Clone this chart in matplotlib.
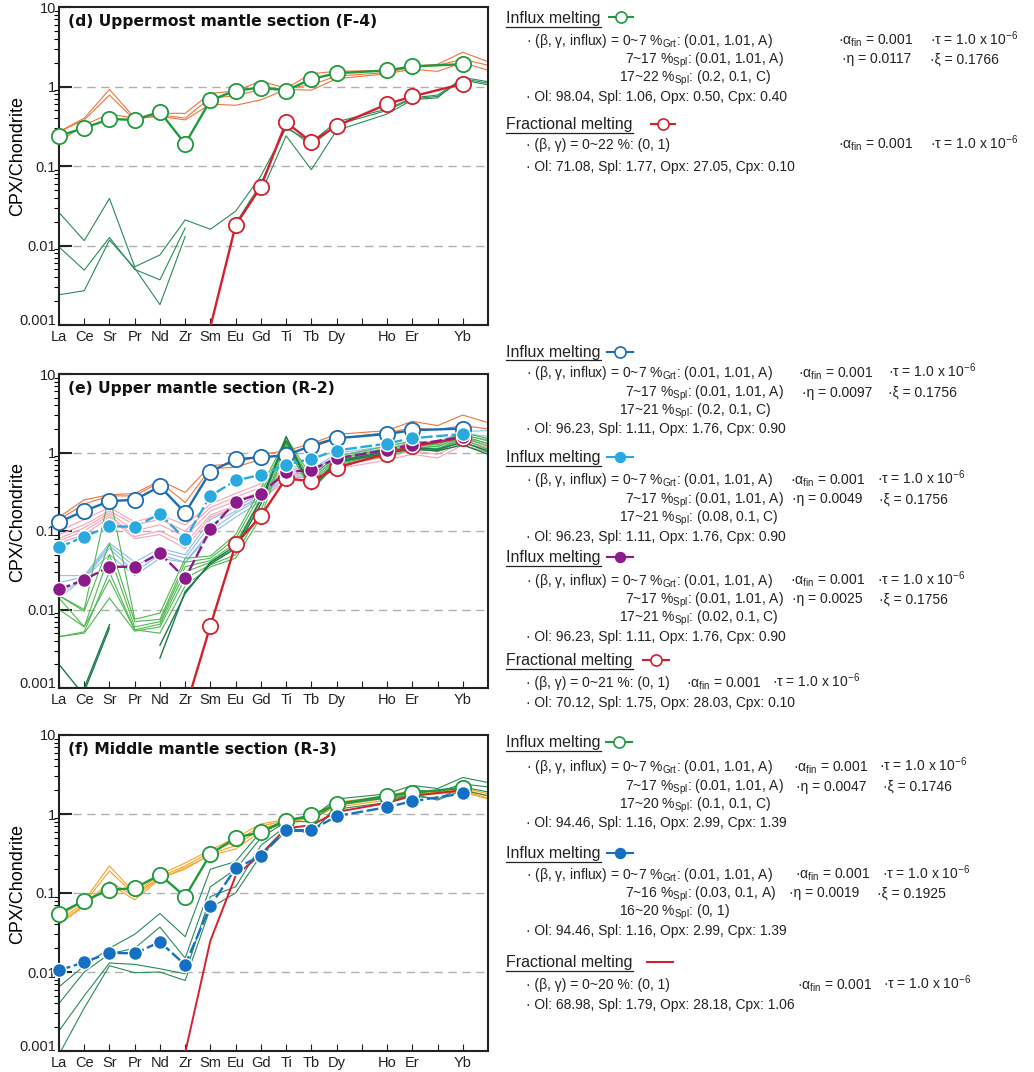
import numpy as np
import matplotlib
matplotlib.use('Agg')
import matplotlib.pyplot as plt
import matplotlib.transforms as mtransforms
from matplotlib.lines import Line2D
from matplotlib.ticker import LogLocator, NullFormatter

plt.rcParams['font.family'] = ['Liberation Sans', 'DejaVu Sans']
plt.rcParams['mathtext.fontset'] = 'custom'
plt.rcParams['mathtext.rm'] = 'Liberation Sans'
plt.rcParams['mathtext.it'] = 'Liberation Sans:italic'
plt.rcParams['mathtext.bf'] = 'Liberation Sans:bold'

nan = np.nan

# x axis: element order (ticks at 12 and 15 carry no label)
tick_labels = ['La', 'Ce', 'Sr', 'Pr', 'Nd', 'Zr', 'Sm', 'Eu', 'Gd', 'Ti', 'Tb', 'Dy', '', 'Ho', 'Er', '', 'Yb']
model_x = [0, 1, 2, 3, 4, 5, 6, 7, 8, 9, 10, 11, 13, 14, 16]           # La..Dy, Ho, Er, Yb
sample_x = [0, 1, 2, 3, 4, 5, 6, 7, 8, 9, 10, 11, 13, 14, 15, 16, 17]  # + Tm, Lu

# ---------------- (d) F-4 ----------------
d_influx = [0.24, 0.30, 0.39, 0.38, 0.48, 0.19, 0.67, 0.89, 0.97, 0.89, 1.24, 1.47, 1.59, 1.79, 1.91]
d_frac = [nan, nan, nan, nan, nan, nan, 0.00095, 0.018, 0.055, 0.355, 0.20, 0.32, 0.60, 0.75, 1.08]
d_orange = [
    [0.27, 0.40, 0.92, 0.40, 0.46, 0.46, 0.82, 0.88, 1.17, 0.95, 1.45, 1.55, 1.60, 1.80, 1.90, 2.70, 2.05],
    [0.27, 0.38, 0.78, 0.38, 0.44, 0.40, 0.72, 0.76, 0.92, 0.95, 1.05, 1.35, 1.50, 1.75, 1.85, 2.20, 1.85],
    [0.20, 0.33, 0.45, 0.40, 0.42, 0.38, 0.60, 0.58, 0.68, 0.92, 0.90, 1.25, 1.45, 1.65, 1.55, 2.00, 1.60],
]
d_green = [
    [0.026, 0.0115, 0.039, 0.0054, 0.0076, 0.021, 0.016, 0.027, 0.075, 0.30, 0.20, 0.36, 0.52, 0.72, 0.78, 1.25, 1.10],
    [0.0096, 0.0049, 0.0126, 0.0050, 0.0037, 0.0166, nan, 0.019, 0.060, 0.32, 0.18, 0.33, 0.50, 0.70, 0.75, 1.20, 1.05],
    [0.0024, 0.0027, 0.0117, 0.0052, 0.0018, 0.013, nan, nan, 0.045, 0.24, 0.09, 0.28, 0.45, 0.68, 0.72, 1.30, 1.15],
]

# ---------------- (e) R-2 ----------------
e_influx1 = [0.13, 0.18, 0.24, 0.25, 0.37, 0.17, 0.57, 0.82, 0.87, 0.92, 1.22, 1.52, 1.72, 1.92, 2.02]
e_influx2 = [0.062, 0.085, 0.115, 0.113, 0.165, 0.079, 0.28, 0.44, 0.52, 0.70, 0.83, 1.06, 1.30, 1.52, 1.72]
e_influx3 = [0.018, 0.024, 0.035, 0.035, 0.052, 0.025, 0.105, 0.235, 0.30, 0.56, 0.60, 0.84, 1.08, 1.25, 1.58]
e_frac = [nan, nan, nan, nan, nan, 0.00053, 0.0062, 0.068, 0.155, 0.47, 0.43, 0.64, 0.97, 1.20, 1.55]
e_orange = [
    [0.15, 0.25, 0.29, 0.30, 0.44, 0.31, 0.68, 0.72, 0.95, 1.05, 1.30, 1.70, 1.90, 2.50, 2.20, 3.00, 2.40],
    [0.14, 0.22, 0.28, 0.28, 0.42, 0.23, 0.62, 0.65, 0.82, 0.98, 1.15, 1.50, 1.80, 2.05, 1.95, 2.20, 2.00],
]
e_pink = [
    [0.10, 0.14, 0.20, 0.13, 0.16, 0.12, 0.22, 0.30, 0.40, 0.62, 0.62, 0.85, 1.10, 1.30, 1.20, 1.60, 1.30],
    [0.09, 0.12, 0.18, 0.12, 0.14, 0.10, 0.20, 0.27, 0.36, 0.58, 0.56, 0.80, 1.02, 1.22, 1.10, 1.50, 1.25],
    [0.08, 0.11, 0.17, 0.10, 0.12, 0.085, 0.18, 0.24, 0.32, 0.52, 0.52, 0.74, 0.95, 1.15, 1.02, 1.45, 1.15],
    [0.075, 0.10, 0.16, 0.085, 0.10, 0.07, 0.16, 0.21, 0.28, 0.48, 0.48, 0.68, 0.88, 1.05, 0.95, 1.35, 1.10],
    [0.07, 0.09, 0.15, 0.08, 0.09, 0.06, 0.15, 0.20, 0.25, 0.44, 0.45, 0.62, 0.80, 0.95, 0.85, 1.25, 1.00],
]
e_ltblue = [
    [0.027, 0.027, 0.070, 0.040, 0.060, 0.050, 0.14, 0.20, 0.30, 0.70, 0.60, 0.98, 1.20, 1.40, 1.35, 1.85, 1.90],
    [0.022, 0.026, 0.065, 0.035, 0.055, 0.045, 0.12, 0.18, 0.28, 0.62, 0.56, 0.92, 1.12, 1.32, 1.25, 1.75, 1.60],
    [0.016, 0.025, 0.060, 0.030, 0.050, 0.040, 0.10, 0.17, 0.26, 0.56, 0.52, 0.86, 1.05, 1.25, 1.18, 1.65, 1.45],
    [0.014, 0.025, 0.050, 0.027, 0.045, 0.040, 0.09, 0.15, 0.24, 0.50, 0.50, 0.80, 1.00, 1.20, 1.10, 1.55, 1.30],
]
e_ltgreen = [
    [0.015, 0.010, 0.30, 0.0075, 0.009, 0.045, 0.048, 0.09, 0.35, 1.55, 0.50, 0.90, 1.20, 1.40, 1.30, 1.80, 1.50],
    [0.015, 0.0095, 0.07, 0.007, 0.0075, 0.040, 0.045, 0.08, 0.30, 1.45, 0.45, 0.85, 1.12, 1.32, 1.25, 1.70, 1.40],
    [0.014, 0.006, 0.05, 0.006, 0.007, 0.035, 0.042, 0.07, 0.26, 1.40, 0.42, 0.80, 1.05, 1.25, 1.18, 1.62, 1.30],
    [0.010, 0.006, 0.024, 0.0055, 0.0065, 0.030, 0.040, 0.06, 0.22, 1.30, 0.38, 0.76, 1.00, 1.20, 1.12, 1.55, 1.20],
    [0.0045, 0.005, 0.014, 0.0053, 0.006, 0.025, 0.037, 0.05, 0.18, 1.25, 0.35, 0.72, 0.95, 1.15, 1.08, 1.48, 1.10],
    [0.0045, 0.0052, 0.030, 0.0055, 0.005, 0.020, 0.035, 0.045, 0.15, 1.20, 0.33, 0.70, 0.90, 1.10, 1.05, 1.40, 1.00],
]
e_dkgreen = [
    [0.002, 0.0008, nan, nan, nan, nan, nan, nan, nan, nan, nan, nan, nan, nan, nan, nan, nan],
    [nan, 0.0009, 0.0058, nan, nan, nan, nan, nan, nan, nan, nan, nan, nan, nan, nan, nan, nan],
    [nan, 0.001, 0.0064, nan, nan, nan, nan, nan, nan, nan, nan, nan, nan, nan, nan, nan, nan],
    [nan, nan, nan, nan, 0.0024, 0.017, 0.038, 0.06, 0.22, 1.60, 0.34, 0.75, 0.98, 1.10, 1.05, 1.25, 0.95],
    [nan, nan, nan, nan, 0.0035, 0.016, 0.040, 0.065, 0.25, 1.40, 0.36, 0.78, 1.02, 1.15, 1.10, 1.35, 1.05],
]

# ---------------- (f) R-3 ----------------
f_influx1 = [0.055, 0.08, 0.11, 0.115, 0.17, 0.09, 0.31, 0.50, 0.59, 0.82, 0.96, 1.32, 1.70, 1.85, 2.15]
f_influx2 = [0.0105, 0.0133, 0.0175, 0.0172, 0.024, 0.0123, 0.069, 0.205, 0.295, 0.63, 0.62, 0.94, 1.22, 1.45, 1.82]
f_frac = [nan, nan, nan, nan, nan, 0.00095, 0.025, 0.165, 0.31, 0.66, 0.72, 1.06, 1.38, 1.70, 2.00]
f_orange = [
    [0.050, 0.080, 0.22, 0.100, 0.17, 0.24, 0.35, 0.50, 0.75, 0.85, 0.95, 1.40, 1.70, 2.00, 1.95, 2.15, 1.80],
    [0.045, 0.075, 0.19, 0.095, 0.16, 0.22, 0.33, 0.45, 0.70, 0.83, 0.92, 1.35, 1.65, 1.90, 1.90, 2.05, 1.70],
    [0.042, 0.070, 0.14, 0.090, 0.155, 0.20, 0.31, 0.40, 0.65, 0.80, 0.90, 1.28, 1.58, 1.80, 1.85, 1.95, 1.60],
    [0.040, 0.068, 0.13, 0.082, 0.15, 0.21, 0.30, 0.36, 0.60, 0.78, 0.88, 1.22, 1.50, 1.72, 1.80, 1.90, 1.55],
]
f_green = [
    [0.0065, 0.012, 0.020, 0.030, 0.055, 0.028, 0.20, 0.25, 0.60, 0.85, 0.90, 1.55, 1.80, 2.30, 2.10, 2.90, 2.50],
    [0.0040, 0.010, 0.017, 0.020, 0.037, 0.015, 0.12, 0.20, 0.50, 0.80, 0.80, 1.40, 1.60, 2.00, 1.90, 2.40, 2.20],
    [0.0018, 0.005, 0.013, 0.0125, 0.011, 0.0095, 0.09, 0.12, 0.40, 0.70, 0.55, 1.30, 1.60, 1.70, 1.55, 2.20, 1.90],
    [0.0009, 0.0035, 0.012, 0.0098, 0.010, 0.0078, 0.065, 0.10, 0.30, 0.60, 0.60, 1.15, 1.40, 1.80, 1.50, 2.00, 1.70],
]

GREEN = '#1f9a3c'
RED = '#d4202c'
BLUE = '#1a6cb6'
LTBLUE = '#2aa9e0'
PURPLE = '#8c1a8a'
FBLUE = '#1670c2'

W, H = 1034, 1072
fig = plt.figure(figsize=(W / 100, H / 100), dpi=100)


def setup(ax, title):
    ax.set_yscale('log')
    ax.set_ylim(0.001, 10)
    ax.set_xlim(0, 17)
    ax.set_xticks(range(17))
    ax.set_xticklabels(tick_labels)
    ax.set_yticks([0.001, 0.01, 0.1, 1, 10])
    ax.set_yticklabels(['0.001', '0.01', '0.1', '1', '10'])
    ax.yaxis.set_minor_locator(LogLocator(base=10, subs=np.arange(2, 10)))
    ax.yaxis.set_minor_formatter(NullFormatter())
    ax.tick_params(axis='both', direction='in', labelsize=10.5, colors='#222222')
    ax.tick_params(axis='y', which='major', length=9, width=1.5, pad=2)
    ax.tick_params(axis='y', which='minor', length=3.5, width=0.8)
    ax.tick_params(axis='x', length=5, width=0.8, pad=3.5)
    # bottom label sits just above the axis line, as in the reference
    lab = ax.get_yticklabels()[0]
    lab.set_transform(lab.get_transform() + mtransforms.ScaledTranslation(0, 4 / 72, fig.dpi_scale_trans))
    for y in [0.01, 0.1, 1]:
        ax.axhline(y, color='#b0b0b0', lw=1, dashes=(6, 4), zorder=0)
    for s in ax.spines.values():
        s.set_linewidth(1.5)
        s.set_color('#222222')
    ax.set_ylabel('CPX/Chondrite', fontsize=13)
    ax.yaxis.set_label_coords(-0.077, 0.53)
    ax.text(0.02, 0.955, title, transform=ax.transAxes, fontsize=11.2, family='DejaVu Sans',
            fontweight='bold', va='center', color='#111111')


def samples(ax, rows, color, lw=0.8):
    for r in rows:
        ax.plot(sample_x, r, color=color, lw=lw, zorder=2)


def model(ax, y, color, filled=False, dashed=False, markers=True, lw=1.7):
    y = np.array(y, float)
    ax.plot(model_x, y, color=color, lw=lw, ls=(0, (5, 1.5)) if dashed else '-', zorder=5)
    if not markers:
        return
    ym = np.where(y >= 0.001, y, nan)
    if filled:
        ax.plot(model_x, ym, ls='none', marker='o', ms=10, mfc=color, mec='white',
                mew=1.0, zorder=6, clip_on=False)
    else:
        ax.plot(model_x, ym, ls='none', marker='o', ms=11, mfc='white', mec=color,
                mew=1.3, zorder=6, clip_on=False)


axd = fig.add_axes([59 / W, 1 - 325 / H, 429 / W, 318 / H])
axe = fig.add_axes([59 / W, 1 - 688 / H, 429 / W, 314 / H])
axf = fig.add_axes([59 / W, 1 - 1051 / H, 429 / W, 316 / H])

setup(axd, '(d) Uppermost mantle section (F-4)')
samples(axd, d_orange, '#f0733c')
samples(axd, d_green, '#2a8a5a')
model(axd, d_frac, RED)
model(axd, d_influx, GREEN)

setup(axe, '(e) Upper mantle section (R-2)')
samples(axe, e_orange, '#f0733c')
samples(axe, e_pink, '#f4a3b6')
samples(axe, e_ltblue, '#8cbde6')
samples(axe, e_ltgreen, '#4db84d')
samples(axe, e_dkgreen, '#1d7a4c', lw=1.0)
model(axe, e_frac, RED)
model(axe, e_influx3, PURPLE, filled=True, dashed=True)
model(axe, e_influx1, BLUE)
model(axe, e_influx2, LTBLUE, filled=True, dashed=True)

setup(axf, '(f) Middle mantle section (R-3)')
samples(axf, f_orange, '#f7a324')
samples(axf, f_green, '#2a8a5a')
model(axf, f_frac, RED, markers=False, lw=1.4)
model(axf, f_influx1, GREEN)
model(axf, f_influx2, FBLUE, filled=True, dashed=True)

# ---------------- right-hand annotations ----------------
B = '\u00b7'
headings = []


def txt(x, y, s, size=10):
    # y is the visual centre of the line in pixels; place on baseline
    fig.text(x / W, 1 - (y + 4.5) / H, s, fontsize=size, va='baseline', ha='left', color='#222222')


def head(x, y, s):
    t = fig.text(x / W, 1 - (y + 5) / H, s, fontsize=11.5, va='baseline', ha='left', color='#222222')
    headings.append(t)


def glyph(xc, yc, color, filled=False, dashed=False, marker=True, half=13):
    yy = 1 - yc / H
    if dashed:
        for a, b in [(xc - half, xc - 5), (xc + 5, xc + half)]:
            fig.add_artist(Line2D([a / W, b / W], [yy, yy], color=color, lw=1.5))
    else:
        fig.add_artist(Line2D([(xc - half) / W, (xc + half) / W], [yy, yy], color=color, lw=1.5))
    if marker:
        fig.add_artist(Line2D([xc / W], [yy], marker='o', ms=7 if filled else 8, ls='none',
                              mfc=color if filled else 'white', mec=color, mew=1.2))


def block(y0, afin_x, tau_x, eta_x, xi_x, eta, xi, seg2, seg3, mode):
    txt(526, y0, B + ' (β, γ, influx) = 0~7 %$_{\\rm Grt}$: (0.01, 1.01, A)')
    txt(afin_x, y0, B + 'α$_{\\rm fin}$ = 0.001')
    txt(tau_x, y0, B + 'τ = 1.0 x 10$^{-6}$')
    txt(625, y0 + 19, seg2)
    txt(eta_x, y0 + 19, B + 'η = ' + eta)
    txt(xi_x, y0 + 19, B + 'ξ = ' + xi)
    txt(619, y0 + 37, seg3)
    txt(526, y0 + 56, B + ' ' + mode)


# panel d
head(506, 18, 'Influx melting')
glyph(621, 17, GREEN, half=12)
block(40, 838, 930, 842, 930, '0.0117', '0.1766',
      '7~17 %$_{\\rm Spl}$: (0.01, 1.01, A)', '17~22 %$_{\\rm Spl}$: (0.2, 0.1, C)',
      'Ol: 98.04, Spl: 1.06, Opx: 0.50, Cpx: 0.40')
head(506, 124, 'Fractional melting')
glyph(663, 124, RED, half=12)
txt(526, 144, B + ' (β, γ) = 0~22 %: (0, 1)')
txt(838, 144, B + 'α$_{\\rm fin}$ = 0.001')
txt(930, 144, B + 'τ = 1.0 x 10$^{-6}$')
txt(526, 166, B + ' Ol: 71.08, Spl: 1.77, Opx: 27.05, Cpx: 0.10')

# panel e
head(506, 352, 'Influx melting')
glyph(620, 352, BLUE)
block(373, 798, 888, 802, 888, '0.0097', '0.1756',
      '7~17 %$_{\\rm Spl}$: (0.01, 1.01, A)', '17~21 %$_{\\rm Spl}$: (0.2, 0.1, C)',
      'Ol: 96.23, Spl: 1.11, Opx: 1.76, Cpx: 0.90')
head(506, 457, 'Influx melting')
glyph(620, 457, LTBLUE, filled=True, dashed=True)
block(480, 790, 877, 792, 879, '0.0049', '0.1756',
      '7~17 %$_{\\rm Spl}$: (0.01, 1.01, A)', '17~21 %$_{\\rm Spl}$: (0.08, 0.1, C)',
      'Ol: 96.23, Spl: 1.11, Opx: 1.76, Cpx: 0.90')
head(506, 557, 'Influx melting')
glyph(620, 557, PURPLE, filled=True, dashed=True)
block(580, 790, 877, 792, 879, '0.0025', '0.1756',
      '7~17 %$_{\\rm Spl}$: (0.01, 1.01, A)', '17~21 %$_{\\rm Spl}$: (0.02, 0.1, C)',
      'Ol: 96.23, Spl: 1.11, Opx: 1.76, Cpx: 0.90')
head(506, 660, 'Fractional melting')
glyph(656, 660, RED)
txt(526, 683, B + ' (β, γ) = 0~21 %: (0, 1)')
txt(686, 683, B + 'α$_{\\rm fin}$ = 0.001')
txt(772, 683, B + 'τ = 1.0 x 10$^{-6}$')
txt(526, 703, B + ' Ol: 70.12, Spl: 1.75, Opx: 28.03, Cpx: 0.10')

# panel f
head(506, 742, 'Influx melting')
glyph(619, 742, GREEN)
block(767, 793, 879, 796, 883, '0.0047', '0.1746',
      '7~17 %$_{\\rm Spl}$: (0.01, 1.01, A)', '17~20 %$_{\\rm Spl}$: (0.1, 0.1, C)',
      'Ol: 94.46, Spl: 1.16, Opx: 2.99, Cpx: 1.39')
head(506, 853, 'Influx melting')
glyph(620, 853, FBLUE, filled=True, dashed=True)
block(874, 795, 882, 789, 877, '0.0019', '0.1925',
      '7~16 %$_{\\rm Spl}$: (0.03, 0.1, A)', '16~20 %$_{\\rm Spl}$: (0, 1)',
      'Ol: 94.46, Spl: 1.16, Opx: 2.99, Cpx: 1.39')
head(506, 962, 'Fractional melting')
glyph(660, 962, RED, marker=False)
txt(526, 985, B + ' (β, γ) = 0~20 %: (0, 1)')
txt(797, 985, B + 'α$_{\\rm fin}$ = 0.001')
txt(883, 985, B + 'τ = 1.0 x 10$^{-6}$')
txt(526, 1004, B + ' Ol: 68.98, Spl: 1.79, Opx: 28.18, Cpx: 1.06')

# underline the headings
fig.canvas.draw()
r = fig.canvas.get_renderer()
for t in headings:
    bb = t.get_window_extent(r)
    yy = (bb.y0 - 0.5) / H
    fig.add_artist(Line2D([bb.x0 / W, bb.x1 / W], [yy, yy], color='#222222', lw=0.9))

fig.savefig('out.png', dpi=100)
